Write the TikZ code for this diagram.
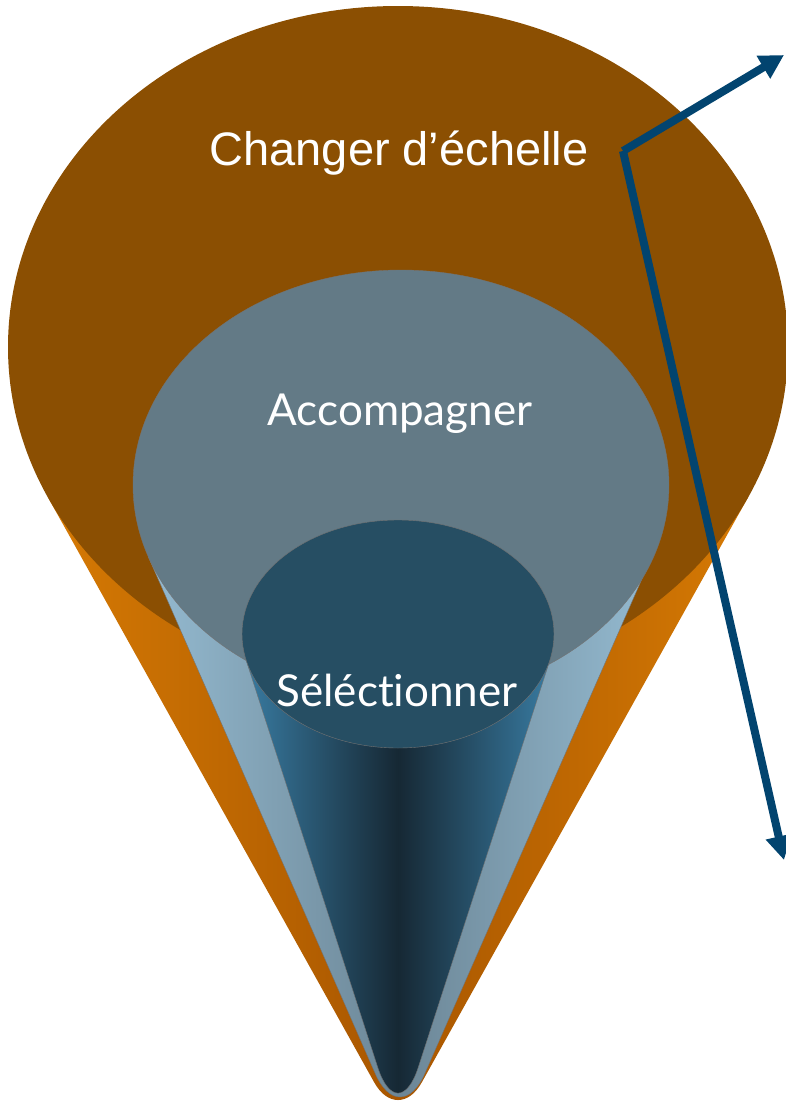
\documentclass[tikz,border=0pt]{standalone}
\usepackage{fontspec}
\setmainfont{Liberation Sans}
\newfontfamily\gillfont[Ligatures={NoCommon}]{Lato}
\usetikzlibrary{arrows.meta,calc}
\definecolor{brownE}{RGB}{139,79,2}
\definecolor{orLight}{RGB}{214,122,4}
\definecolor{orDark}{RGB}{168,86,0}
\definecolor{greyE}{RGB}{99,122,134}
\definecolor{lbLight}{RGB}{148,186,208}
\definecolor{lbDark}{RGB}{108,134,150}
\definecolor{darkE}{RGB}{38,78,99}
\definecolor{dcEdge}{RGB}{56,122,160}
\definecolor{dcMid}{RGB}{22,40,52}
\definecolor{arrowC}{RGB}{2,68,111}
\tikzset{
  outline/.style={draw=black!55, line width=0.4pt},
  arr/.style={draw=arrowC, line width=8pt, -{Triangle[length=24pt,width=25pt]}},
  lbl/.style={text=white, inner sep=0pt, anchor=base},
}
\begin{document}
\begin{tikzpicture}[x=1pt,y=-1pt]
\useasboundingbox (0,0) rectangle (786,1101);
\fill[white] (0,0) rectangle (786,1101);
% outer cone
\coordinate (A1) at (398,1125);
\coordinate (L1) at (47.5,496.5);
\coordinate (R1) at (748.5,496.5);
\coordinate (P1a) at ($(A1)!48.7pt!(L1)$);
\coordinate (P1b) at ($(A1)!48.7pt!(R1)$);
\shade[left color=orLight, right color=orLight, middle color=orDark]
  (L1) -- (P1a) .. controls ($(P1a)!0.55!(A1)$) and ($(P1b)!0.55!(A1)$) .. (P1b) -- (R1) -- cycle;
\fill[brownE] (398,347) ellipse [x radius=390pt, y radius=341pt];
% middle cone
\coordinate (A2) at (400,1130);
\coordinate (L2) at (148.3,556.7);
\coordinate (R2) at (651.7,556.7);
\coordinate (P2a) at ($(A2)!61.4pt!(L2)$);
\coordinate (P2b) at ($(A2)!61.4pt!(R2)$);
\shade[outline, left color=lbLight, right color=lbLight, middle color=lbDark]
  (L2) -- (P2a) .. controls ($(P2a)!0.55!(A2)$) and ($(P2b)!0.55!(A2)$) .. (P2b) -- (R2) -- cycle;
\fill[greyE, outline] (401,485) ellipse [x radius=268pt, y radius=215pt];
% inner cone
\coordinate (A3) at (398,1130);
\coordinate (L3) at (246,659.8);
\coordinate (R3) at (550,659.8);
\coordinate (P3a) at ($(A3)!66pt!(L3)$);
\coordinate (P3b) at ($(A3)!66pt!(R3)$);
\shade[outline, left color=dcEdge, right color=dcEdge, middle color=dcMid]
  (L3) -- (P3a) .. controls ($(P3a)!0.55!(A3)$) and ($(P3b)!0.55!(A3)$) .. (P3b) -- (R3) -- cycle;
\fill[darkE, outline] (398,634) ellipse [x radius=156pt, y radius=114pt];
% labels
\node[lbl, font=\fontsize{47}{50}\selectfont] (t1) at (399,165) {Changer d’échelle};
\node[lbl, font=\gillfont\fontsize{44}{48}\selectfont] (t2) at (400,425) {Accompagner};
\node[lbl, font=\gillfont\fontsize{44}{48}\selectfont] (t3) at (397,706) {Séléc\kern0pt{}tionner};
% arrows
\coordinate (start) at (623,151);
\coordinate (tipU) at (784,55);
\coordinate (tipD) at (784,860);
\draw[arr] (start) -- (tipU);
\draw[arr] (start) -- (tipD);
\end{tikzpicture}
\end{document}
